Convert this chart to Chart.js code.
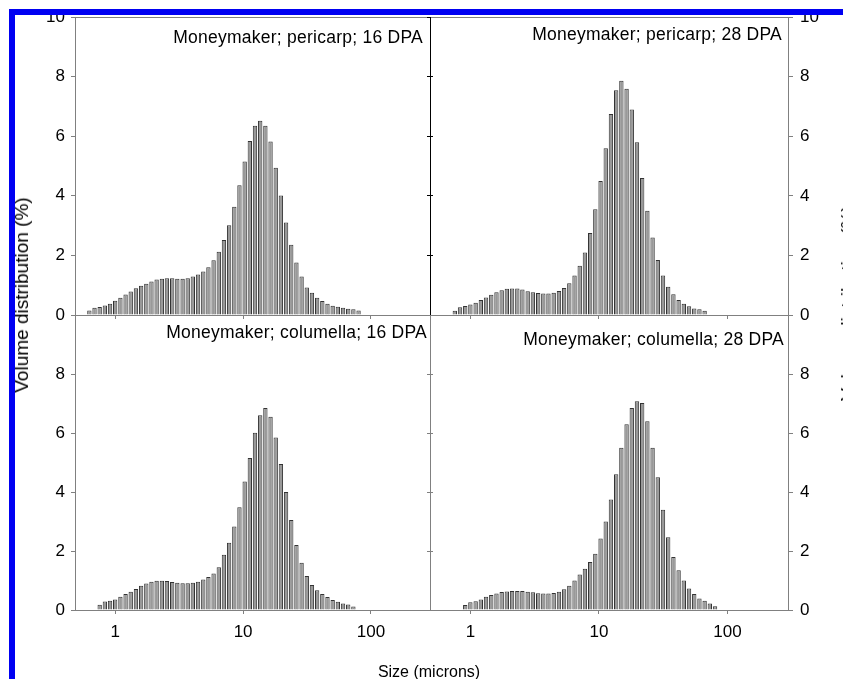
<!DOCTYPE html>
<html><head><meta charset="utf-8">
<script src="https://cdn.jsdelivr.net/npm/chart.js@4.4.0/dist/chart.umd.min.js"></script>
<style>
html,body{margin:0;padding:0;background:#fff;}
#wrap{position:relative;width:843px;height:679px;overflow:hidden;background:#fff;}
#wrap canvas{position:absolute;left:0;top:0;}
.frame{position:absolute;left:9px;top:9px;width:900px;height:700px;border-top:6px solid #0000f2;border-left:6px solid #0000f2;box-sizing:border-box;z-index:5;}
.lbl{position:absolute;font-family:"Liberation Sans",Arial,sans-serif;font-size:17.5px;letter-spacing:0.25px;color:#000;white-space:nowrap;line-height:18px;z-index:3;}
.rot{transform:translate(-50%,-50%) rotate(-90deg);font-size:19px;letter-spacing:0;}
</style></head><body>
<div id="wrap">
<canvas id="cTL" width="843" height="679"></canvas>
<canvas id="cTR" width="843" height="679"></canvas>
<canvas id="cBL" width="843" height="679"></canvas>
<canvas id="cBR" width="843" height="679"></canvas>
<div class="lbl" id="tTL" style="right:420px;top:28px;"></div>
<div class="lbl" id="tTR" style="right:61px;top:25px;"></div>
<div class="lbl" id="tBL" style="right:416px;top:323px;"></div>
<div class="lbl" id="tBR" style="right:59px;top:330px;"></div>
<div class="lbl rot" id="yTitleL" style="left:22px;top:295px;"></div>
<div class="lbl rot" id="yTitleR" style="left:848px;top:303px;"></div>
<div class="lbl" id="xTitle" style="left:429px;top:663px;transform:translateX(-50%);font-size:16px;letter-spacing:0;"></div>
<div class="frame"></div>
</div>
<script>
// Channel centres (microns), log-spaced laser-diffraction size classes
const sizes = [0.627,0.688,0.755,0.829,0.910,0.998,1.097,1.204,1.321,1.451,1.593,1.749,1.919,2.106,2.315,2.535,2.787,3.059,3.363,3.688,4.044,4.442,4.882,5.354,5.878,6.454,7.082,7.774,8.539,9.366,10.29,11.29,12.39,13.61,14.94,16.40,18.00,19.76,21.69,23.81,26.14,28.69,31.50,34.57,37.97,41.67,45.74,50.22,55.14,60.53,66.43,72.93,80.07];

// Volume distribution (%) per channel
const pericarp16 = [0.15,0.24,0.27,0.32,0.38,0.48,0.58,0.69,0.79,0.90,0.98,1.05,1.12,1.19,1.22,1.23,1.23,1.22,1.22,1.23,1.29,1.36,1.46,1.60,1.84,2.12,2.52,3.01,3.63,4.35,5.15,5.84,6.35,6.52,6.35,5.82,4.94,4.01,3.10,2.36,1.76,1.29,0.92,0.75,0.58,0.47,0.38,0.31,0.28,0.24,0.21,0.19,0.15];
const pericarp28 = [null,null,0.14,0.26,0.30,0.35,0.41,0.50,0.59,0.68,0.76,0.83,0.88,0.89,0.89,0.86,0.80,0.76,0.74,0.72,0.72,0.75,0.81,0.91,1.07,1.33,1.65,2.10,2.75,3.55,4.50,5.60,6.75,7.55,7.87,7.60,6.90,5.80,4.60,3.50,2.60,1.85,1.33,0.95,0.70,0.50,0.38,0.29,0.22,0.19,0.14,null,null];
const columella16 = [null,null,0.18,0.29,0.31,0.36,0.45,0.54,0.62,0.71,0.82,0.90,0.96,0.99,0.99,0.98,0.95,0.92,0.91,0.91,0.92,0.96,1.03,1.12,1.24,1.45,1.87,2.28,2.83,3.48,4.36,5.15,6.01,6.60,6.85,6.55,5.85,4.95,4.00,3.05,2.20,1.60,1.15,0.85,0.67,0.54,0.44,0.34,0.28,0.22,0.19,0.12,null];
const columella28 = [null,null,null,null,0.17,0.26,0.30,0.36,0.45,0.51,0.56,0.61,0.63,0.64,0.64,0.64,0.62,0.60,0.57,0.56,0.56,0.58,0.62,0.70,0.82,1.00,1.20,1.40,1.63,1.91,2.42,3.00,3.75,4.60,5.50,6.30,6.85,7.08,7.02,6.40,5.50,4.50,3.40,2.47,1.80,1.35,1.00,0.73,0.54,0.39,0.31,0.22,0.13];

const yTickValues = [0,2,4,6,8,10];
const xTickValues = [1,10,100];
const panelTitles = ['Moneymaker; pericarp; 16 DPA','Moneymaker; pericarp; 28 DPA','Moneymaker; columella; 16 DPA','Moneymaker; columella; 28 DPA'];
const yTitle = 'Volume distribution (%)';
const xTitle = 'Size (microns)';

document.getElementById('tTL').textContent = panelTitles[0];
document.getElementById('tTR').textContent = panelTitles[1];
document.getElementById('tBL').textContent = panelTitles[2];
document.getElementById('tBR').textContent = panelTitles[3];
document.getElementById('yTitleL').textContent = yTitle;
document.getElementById('yTitleR').textContent = yTitle;
document.getElementById('xTitle').textContent = xTitle;

Chart.defaults.font.family = '"Liberation Sans", Arial, sans-serif';
Chart.defaults.font.size = 17;
Chart.defaults.color = '#000';

const GREY = '#808080';
const W = 843, H = 679;

function makePanel(id, vals, side, row) {
  const area = {
    left: side === 'L' ? 75 : 430,
    right: side === 'L' ? 430 : 788,
    top: row === 'T' ? 17 : 315,
    bottom: row === 'T' ? 315 : 610
  };
  const mainYW = side === 'L' ? 75 : 55;
  const xBotH = row === 'B' ? 40 : 10;
  const dividerColor = row === 'T' ? '#000' : GREY;
  const pad = {
    top: area.top,
    bottom: H - area.bottom - xBotH,
    left: side === 'L' ? 0 : area.left,
    right: side === 'L' ? W - area.right : W - area.right - mainYW
  };
  const pts = [];
  sizes.forEach((s, i) => { if (vals[i] !== null) pts.push({x: s, y: vals[i]}); });
  const xMax = side === 'L' ? 290 : 296;
  const yLabel = v => (row === 'B' && v === 10) ? '' : String(v);
  const scales = {
    x: {
      type: 'logarithmic', position: 'bottom', min: 0.484, max: xMax,
      offset: false,
      afterBuildTicks: s => { s.ticks = xTickValues.map(v => ({value: v})); },
      afterFit: s => { s.height = xBotH; },
      ticks: {display: row === 'B', color: '#000', padding: 8, maxRotation: 0, autoSkip: false,
              callback: v => String(v)},
      grid: {display: true, drawOnChartArea: false, drawTicks: true, tickLength: 4, color: GREY, offset: false},
      border: {display: true, color: GREY, width: 1}
    },
    xTop: {
      type: 'linear', position: 'top', min: 0, max: 1, display: true,
      afterFit: s => { s.height = 0; },
      ticks: {display: false},
      grid: {display: false, drawTicks: false},
      border: {display: true, color: GREY, width: 1}
    },
    y: {
      type: 'linear', position: side === 'L' ? 'left' : 'right', min: 0, max: 10,
      afterBuildTicks: s => { s.ticks = yTickValues.map(v => ({value: v})); },
      afterFit: s => { s.width = mainYW; },
      ticks: {color: '#000', padding: side === 'L' ? 6 : 7, callback: yLabel},
      grid: {drawOnChartArea: false, drawTicks: true, tickLength: side === 'L' ? 4 : 5, color: GREY},
      border: {display: true, color: GREY, width: 1}
    },
    yDiv: {
      type: 'linear', position: side === 'L' ? 'right' : 'left', min: 0, max: 10, display: true,
      afterBuildTicks: s => { s.ticks = yTickValues.map(v => ({value: v})); },
      afterFit: s => { s.width = 0; },
      ticks: {display: false},
      grid: {drawOnChartArea: false, drawTicks: true, tickLength: 3, color: dividerColor},
      border: {display: true, color: dividerColor, width: 1}
    }
  };
  return new Chart(document.getElementById(id), {
    type: 'bar',
    data: {datasets: [{
      data: pts, xAxisID: 'x', yAxisID: 'y',
      backgroundColor: '#999999', borderColor: '#333333', borderWidth: 1,
      borderSkipped: 'bottom', barPercentage: 0.86, categoryPercentage: 1
    }]},
    options: {
      responsive: false, animation: false, devicePixelRatio: 1,
      layout: {padding: pad, autoPadding: false},
      plugins: {legend: {display: false}, tooltip: {enabled: false}, title: {display: false}},
      scales
    }
  });
}

makePanel('cTL', pericarp16, 'L', 'T');
makePanel('cTR', pericarp28, 'R', 'T');
makePanel('cBL', columella16, 'L', 'B');
makePanel('cBR', columella28, 'R', 'B');
</script>
</body></html>
